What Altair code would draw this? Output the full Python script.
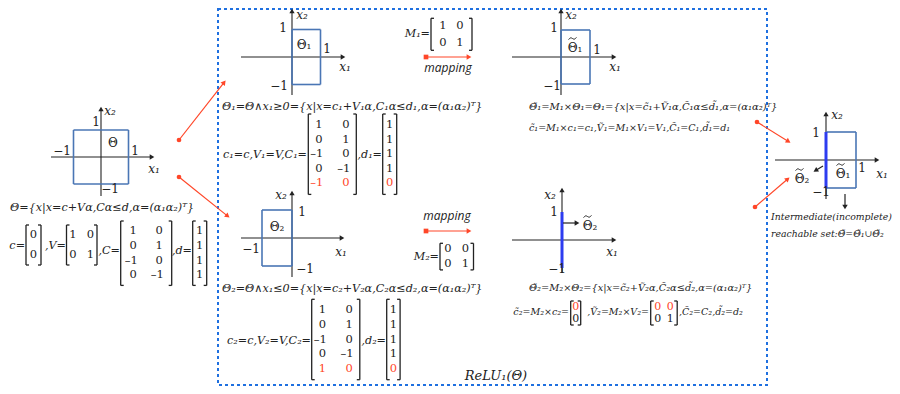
import math
import altair as alt
import pandas as pd

# ---------------- data: sets (x1 min, x1 max, x2 min, x2 max) ----------------
SET_NAMES = ["Θ", "Θ₁", "Θ₂", "Θ̃₁", "Θ̃₂"]
SET_X1_MIN = [-1, 0, -1, 0, 0]
SET_X1_MAX = [1, 1, 0, 1, 0]
SET_X2_MIN = [-1, -1, -1, -1, -1]
SET_X2_MAX = [1, 1, 1, 1, 1]

# ---------------- data: matrices ----------------
MAT_c = [[0], [0]]
MAT_V = [[1, 0], [0, 1]]
MAT_C = [[1, 0], [0, 1], [-1, 0], [0, -1]]
MAT_d = [[1], [1], [1], [1]]
MAT_C1 = [[1, 0], [0, 1], [-1, 0], [0, -1], [-1, 0]]
MAT_d1 = [[1], [1], [1], [1], [0]]
MAT_C2 = [[1, 0], [0, 1], [-1, 0], [0, -1], [1, 0]]
MAT_d2 = [[1], [1], [1], [1], [0]]
MAT_M1 = [[1, 0], [0, 1]]
MAT_M2 = [[0, 0], [0, 1]]
MAT_ct2 = [[0], [0]]
MAT_Vt2 = [[0, 0], [0, 1]]
# rows drawn in red (the changed constraint / projected coordinate)
RED_ROWS = {"C1": [4], "d1": [4], "C2": [4], "d2": [4], "ct2": [0], "Vt2": [0]}

# ---------------- layout ----------------
SERIF = "DejaVu Serif"
SANS = "Open Sans"
INK = "#222222"
BOX = "#4a76b5"
THICK = "#2d3cf0"
RED = "#ff4628"
BORDER = "#1f70e0"

# panel: origin px, unit px, axis extents px, sets drawn
PANELS = [
    dict(ox=101, oy=157, ux=27.5, uy=27, ax0=51, ax1=155, ayb=196, ayt=106, sets=["Θ"]),
    dict(ox=292, oy=57, ux=28.5, uy=27.5, ax0=241, ax1=346, ayb=95, ayt=8, sets=["Θ₁"]),
    dict(ox=292, oy=238, ux=30, uy=28, ax0=241, ax1=345, ayb=277, ayt=190, sets=["Θ₂"]),
    dict(ox=561, oy=57, ux=29, uy=27, ax0=512, ax1=617, ayb=95, ayt=8, sets=["Θ̃₁"]),
    dict(ox=562, oy=240, ux=28, uy=28, ax0=512, ax1=617, ayb=273, ayt=187, sets=["Θ̃₂"]),
    dict(ox=826, oy=160, ux=30, uy=28, ax0=775, ax1=880, ayb=199, ayt=111, sets=["Θ̃₁", "Θ̃₂"]),
]

# matrix placement: left bracket x, top y, pad x, column step, pad y, row step
MATRICES = [
    ("c", MAT_c, 26, 225, 7.5, 0, 10, 20),
    ("V", MAT_V, 66.5, 225, 6.5, 17.5, 10, 20),
    ("C", MAT_C, 120.7, 221, 12.5, 26, 10, 14.8),
    ("d", MAT_d, 192.7, 221, 7, 0, 10, 14.8),
    ("C1", MAT_C1, 308.3, 114, 10.5, 27, 11, 14.6),
    ("d1", MAT_d1, 382.7, 114, 7, 0, 11, 14.6),
    ("C2", MAT_C2, 311.7, 299.3, 10.7, 26.7, 11, 14.6),
    ("d2", MAT_d2, 386.7, 299.3, 6.7, 0, 11, 14.6),
    ("M1", MAT_M1, 431, 18.3, 12, 17, 7.5, 17),
    ("M2", MAT_M2, 440, 243.3, 8, 17.5, 6, 14.6),
    ("ct2", MAT_ct2, 570.7, 301, 5, 0, 6, 12),
    ("Vt2", MAT_Vt2, 650.7, 301, 7, 12.5, 6, 12),
]

# arrows: x0, y0, x1, y1, color, start marker
ARROWS = [
    (179, 140, 226, 80, RED, "circle"),
    (179, 177, 230, 218, RED, "circle"),
    (757, 122, 791, 143, RED, "circle"),
    (755, 207, 790, 177, RED, "circle"),
    (426, 57, 472, 57, RED, "square"),
    (426, 231, 472, 231, RED, "square"),
    (563, 223, 580, 223, INK, None),
    (823, 166, 813, 172, INK, None),
    (845, 194, 845, 210, INK, None),
]

# text: text, x, y, size, color, align, style, font
T = []
def t(text, x, y, size=12, color=INK, align="center", style="normal", font=SERIF):
    T.append(dict(text=text, x=x, y=y, size=size, color=color, align=align, style=style, font=font))

# panel labels (tilde sets get a drawn tilde stroke above the Θ)
TILDES = []
for lab in [
    ("x₂", 110, 111, "italic"), ("1", 96, 122, "normal"), ("Θ", 113, 143, "normal"),
    ("−1", 62, 151, "normal"), ("1", 135, 151, "normal"), ("x₁", 154, 169, "italic"), ("−1", 110, 189, "normal"),
    ("x₂", 302, 15, "italic"), ("1", 283, 28, "normal"), ("Θ₁", 304, 45, "normal"),
    ("1", 327, 49, "normal"), ("x₁", 345, 67, "italic"), ("−1", 279, 86, "normal"),
    ("x₂", 281, 195, "italic"), ("1", 302, 212, "normal"), ("Θ₂", 277, 227, "normal"),
    ("−1", 251, 249, "normal"), ("x₁", 341, 252, "italic"), ("−1", 305, 269, "normal"),
    ("x₂", 571, 15, "italic"), ("1", 554, 28, "normal"), ("~Θ₁", 575, 48, "normal"),
    ("1", 597, 50, "normal"), ("x₁", 615, 67, "italic"), ("−1", 552, 86, "normal"),
    ("x₂", 550, 195, "italic"), ("1", 554, 212, "normal"), ("~Θ₂", 590, 226, "normal"),
    ("x₁", 612, 252, "italic"), ("−1", 557, 269, "normal"),
    ("x₂", 837, 115, "italic"), ("1", 816, 133, "normal"), ("1", 862, 168, "normal"),
    ("x₁", 882, 174, "italic"), ("~Θ₁", 843, 174, "normal"), ("~Θ₂", 802, 179, "normal"),
    ("−1", 821, 192, "normal"),
]:
    txt = lab[0]
    if txt.startswith("~"):
        txt = txt[1:]
        TILDES.append((lab[1] - 2.5, lab[2] - 9.5))
    t(txt, lab[1], lab[2], 12, INK, "center", lab[3])

FS = 11.2   # formula size, left & middle
FR = 10     # formula size, right column

t("Θ={x|x=c+Vα,Cα≤d,α=(α₁α₂)ᵀ}", 10, 208, FS, align="left", style="italic")
t("c=", 25, 246, FS, align="right", style="italic")
t(",V=", 66, 246, FS, align="right", style="italic")
t(",C=", 120, 251, FS, align="right", style="italic")
t(",d=", 192, 251, FS, align="right", style="italic")

t("Θ₁=Θ∧x₁≥0={x|x=c₁+V₁α,C₁α≤d₁,α=(α₁α₂)ᵀ}", 222, 107, FS, align="left", style="italic")
t("c₁=c,V₁=V,C₁=", 307, 155, FS, align="right", style="italic")
t(",d₁=", 382, 155, FS, align="right", style="italic")
t("M₁=", 430, 34, FS, align="right", style="italic")
t("mapping", 448, 68, 12, align="center", style="italic", font=SANS)

t("mapping", 447, 216, 12, align="center", style="italic", font=SANS)
t("M₂=", 439, 257, FS, align="right", style="italic")
t("Θ₂=Θ∧x₁≤0={x|x=c₂+V₂α,C₂α≤d₂,α=(α₁α₂)ᵀ}", 222, 289, FS, align="left", style="italic")
t("c₂=c,V₂=V,C₂=", 311, 341, FS, align="right", style="italic")
t(",d₂=", 386, 341, FS, align="right", style="italic")
t("ReLU₁(Θ)", 496, 376, 13, align="center", style="italic")

t("Θ̃₁=M₁×Θ₁=Θ₁={x|x=c̃₁+Ṽ₁α,C̃₁α≤d̃₁,α=(α₁α₂)ᵀ}", 529, 107, FR, align="left", style="italic")
t("c̃₁=M₁×c₁=c₁,Ṽ₁=M₁×V₁=V₁,C̃₁=C₁,d̃₁=d₁", 529, 128, 9.5, align="left", style="italic")
t("Θ̃₂=M₂×Θ₂={x|x=c̃₂+Ṽ₂α,C̃₂α≤d̃₂,α=(α₁α₂)ᵀ}", 529, 288, 9.8, align="left", style="italic")
t("c̃₂=M₂×c₂=", 569, 312, 9.5, align="right", style="italic")
t(",Ṽ₂=M₂×V₂=", 649, 312, 9.5, align="right", style="italic")
t(",C̃₂=C₂,d̃₂=d₂", 679, 312, 9.5, align="left", style="italic")

t("Intermediate(incomplete)", 771, 217, 9.3, align="left", style="italic")
t("reachable set:Θ̃=Θ̃₁∪Θ̃₂", 771, 234, 9.3, align="left", style="italic")

# ---------------- build geometry ----------------
SEG = []
def seg(x0, y0, x1, y1, color=INK, w=1.1):
    SEG.append(dict(x=x0, y=y0, x2=x1, y2=y1, color=color, w=w))

PTS = []
def pt(x, y, shape, size, color, ang=0):
    PTS.append(dict(x=x, y=y, shape=shape, size=size, color=color, ang=ang))

sets = {n: (a, b, c, d) for n, a, b, c, d in zip(SET_NAMES, SET_X1_MIN, SET_X1_MAX, SET_X2_MIN, SET_X2_MAX)}

for p in PANELS:
    ox, oy, ux, uy = p["ox"], p["oy"], p["ux"], p["uy"]
    seg(p["ax0"], oy, p["ax1"] - 3, oy)
    seg(ox, p["ayb"], ox, p["ayt"] + 3)
    pt(p["ax1"] - 3, oy, "triangle-right", 28, INK)
    pt(ox, p["ayt"] + 3, "triangle-up", 28, INK)
    for n in p["sets"]:
        a, b, c, d = sets[n]
        X0, X1 = ox + a * ux, ox + b * ux
        Y0, Y1 = oy - c * uy, oy - d * uy
        if a == b:
            seg(X0, Y0, X0, Y1, THICK, 3)
        else:
            for e in [(X0, Y0, X1, Y0), (X1, Y0, X1, Y1), (X1, Y1, X0, Y1), (X0, Y1, X0, Y0)]:
                seg(*e, BOX, 1.6)

MT = []
for name, M, left, top, padx, cs, pady, rs in MATRICES:
    nr, nc = len(M), len(M[0])
    right = left + 2 * padx + (nc - 1) * cs
    bottom = top + 2 * pady + (nr - 1) * rs
    for bx, s in [(left, 1), (right, -1)]:
        seg(bx, top, bx, bottom, INK, 1.3)
        seg(bx, top, bx + 3 * s, top, INK, 1.3)
        seg(bx, bottom, bx + 3 * s, bottom, INK, 1.3)
    for i, row in enumerate(M):
        for j, v in enumerate(row):
            col = RED if i in RED_ROWS.get(name, []) else INK
            MT.append(dict(text=("–" if v < 0 else "") + str(abs(v)),
                           x=left + padx + j * cs - (2 if v < 0 else 0), y=top + pady + i * rs,
                           color=col, size=(11 if rs < 13 else 11.5)))

for x0, y0, x1, y1, col, start in ARROWS:
    L = math.hypot(x1 - x0, y1 - y0)
    ex, ey = x1 - 3 * (x1 - x0) / L, y1 - 3 * (y1 - y0) / L
    seg(x0, y0, ex, ey, col, 1.2)
    ang = math.degrees(math.atan2(x1 - x0, -(y1 - y0))) % 360
    pt(ex, ey, "triangle-up", 30, col, ang)
    if start:
        pt(x0, y0, start, 22, col)

# tilde strokes: a small wave glyph above each tilde-set label
TILDE_SHAPE = [(-4, 1.2), (-2, -1.2), (0, 0), (2, 1.2), (4, -1.2)]
TL = []
for k, (tx, ty) in enumerate(TILDES):
    for o, (dx, dy) in enumerate(TILDE_SHAPE):
        TL.append(dict(id=k, o=o, x=tx + dx, y=ty + dy))

seg_df = pd.DataFrame(SEG)
pt_df = pd.DataFrame(PTS)
txt_df = pd.DataFrame(T)
mt_df = pd.DataFrame(MT)
tl_df = pd.DataFrame(TL)

xs = alt.Scale(domain=[8, 892], nice=False, zero=False)
ys = alt.Scale(domain=[8, 386], nice=False, zero=False, reverse=True)
X = alt.X("x:Q", scale=xs, axis=None)
Y = alt.Y("y:Q", scale=ys, axis=None)

border = alt.Chart(pd.DataFrame({"x": [218], "y": [9], "x2": [767], "y2": [385]})).mark_rect(
    fillOpacity=0, stroke=BORDER, strokeWidth=2, strokeDash=[3, 3]
).encode(x=X, y=Y, x2="x2:Q", y2="y2:Q")

rules = alt.Chart(seg_df).mark_rule(strokeCap="butt").encode(
    x=X, y=Y, x2="x2:Q", y2="y2:Q",
    color=alt.Color("color:N", scale=None),
    strokeWidth=alt.StrokeWidth("w:Q", scale=None),
)

points = alt.Chart(pt_df).mark_point(filled=True, opacity=1, strokeWidth=0).encode(
    x=X, y=Y,
    shape=alt.Shape("shape:N", scale=None),
    size=alt.Size("size:Q", scale=None),
    angle=alt.Angle("ang:Q", scale=None),
    color=alt.Color("color:N", scale=None),
)

tildes = alt.Chart(tl_df).mark_line(color=INK, strokeWidth=1, interpolate="basis").encode(
    x=X, y=Y, detail="id:N", order="o:Q"
)

layers = [border, rules, points, tildes]
for (align, style, font), g in txt_df.groupby(["align", "style", "font"]):
    layers.append(
        alt.Chart(g).mark_text(align=align, baseline="middle", fontStyle=style, font=font).encode(
            x=X, y=Y, text="text:N",
            size=alt.Size("size:Q", scale=None),
            color=alt.Color("color:N", scale=None),
        )
    )
layers.append(
    alt.Chart(mt_df).mark_text(align="center", baseline="middle", font=SERIF).encode(
        x=X, y=Y, text="text:N", color=alt.Color("color:N", scale=None),
        size=alt.Size("size:Q", scale=None),
    )
)

chart = alt.layer(*layers).properties(
    width=884, height=378, padding=0, autosize=alt.AutoSizeParams(type="none")
).configure_view(stroke=None)
chart.save("out.html", embed_options={"renderer": "svg", "actions": False})
